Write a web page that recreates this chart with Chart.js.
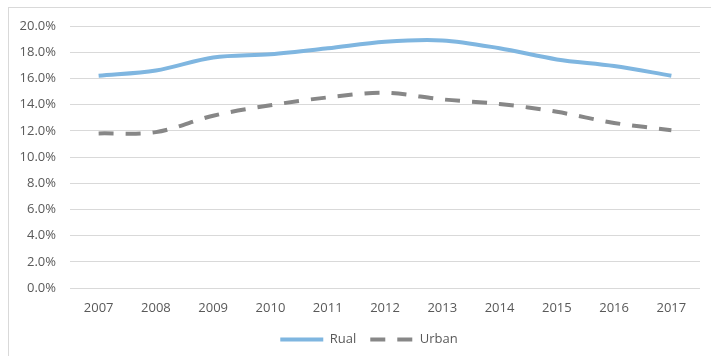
<!DOCTYPE html>
<html>
<head>
<meta charset="utf-8">
<script src="https://cdn.jsdelivr.net/npm/chart.js@4/dist/chart.umd.min.js"></script>
<style>
  html, body { margin: 0; padding: 0; background: #fff; }
  #wrap { position: relative; width: 711px; height: 356px; overflow: hidden; }
  #frame { position: absolute; left: 8px; top: 7px; width: 720px; height: 400px; border: 1px solid #d9d9d9; }
  #ratesChart { position: absolute; left: 0; top: 0; }
</style>
</head>
<body>
<div id="wrap">
  <div id="frame"></div>
  <canvas id="ratesChart" width="711" height="356"></canvas>
</div>
<script>
// years along the x axis
const years = ['2007', '2008', '2009', '2010', '2011', '2012', '2013', '2014', '2015', '2016', '2017'];

// rates in percent
const rualValues = [16.2, 16.6, 17.6, 17.85, 18.3, 18.8, 18.9, 18.3, 17.45, 16.95, 16.2];
const urbanValues = [11.8, 11.9, 13.15, 13.95, 14.55, 14.9, 14.4, 14.05, 13.45, 12.6, 12.05];

// y axis ticks
const yMin = 0;
const yMax = 20;
const yStep = 2;

const tickFont = { family: '"Open Sans", sans-serif', size: 13 };

// the legend sits a little right of centre in the original
const shiftLegend = {
    id: 'shiftLegend',
    afterLayout(chart) {
        if (chart.legend) chart.legend.left += 38;
    }
};

function initRatesChart() {
    const ctx = document.getElementById('ratesChart');
    if (!ctx) return;
    new Chart(ctx.getContext('2d'), {
        type: 'line',
        data: {
            labels: years,
            datasets: [{
                label: 'Rual',
                data: rualValues,
                borderColor: '#7fb6e0',
                backgroundColor: '#7fb6e0',
                borderWidth: 4,
                borderCapStyle: 'butt',
                tension: 0.33,
                pointRadius: 0,
                pointStyle: 'line'
            }, {
                label: 'Urban',
                data: urbanValues,
                borderColor: '#878787',
                backgroundColor: '#878787',
                borderWidth: 4,
                borderDash: [15, 12],
                borderCapStyle: 'butt',
                tension: 0.33,
                pointRadius: 0,
                pointStyle: 'line'
            }]
        },
        options: {
            responsive: false,
            animation: false,
            events: [],
            layout: { padding: { left: 0, right: 11, top: 26, bottom: 0 } },
            plugins: {
                tooltip: { enabled: false },
                legend: {
                    position: 'bottom',
                    labels: {
                        usePointStyle: true,
                        pointStyleWidth: 43,
                        boxHeight: 4,
                        padding: 14,
                        color: '#595959',
                        font: tickFont,
                        generateLabels: function(chart) {
                            const items = Chart.defaults.plugins.legend.labels.generateLabels(chart);
                            items.forEach(function(item) {
                                const ds = chart.data.datasets[item.datasetIndex];
                                item.lineDash = ds.borderDash || [];
                                item.lineWidth = ds.borderWidth;
                                item.lineCap = 'butt';
                            });
                            return items;
                        }
                    }
                }
            },
            scales: {
                x: {
                    offset: true,
                    grid: { display: false, drawTicks: false },
                    border: { display: false },
                    ticks: { color: '#595959', font: tickFont, padding: 12, maxRotation: 0 },
                    afterFit: function(scale) { scale.height = 31; }
                },
                y: {
                    min: yMin,
                    max: yMax,
                    grid: { color: '#d9d9d9', lineWidth: 1, drawTicks: false },
                    border: { display: false },
                    ticks: {
                        stepSize: yStep,
                        color: '#595959',
                        font: tickFont,
                        padding: 14,
                        callback: function(v) { return v.toFixed(1) + '%'; }
                    },
                    afterFit: function(scale) { scale.width = 70; }
                }
            }
        },
        plugins: [shiftLegend]
    });
}

initRatesChart();
</script>
</body>
</html>
